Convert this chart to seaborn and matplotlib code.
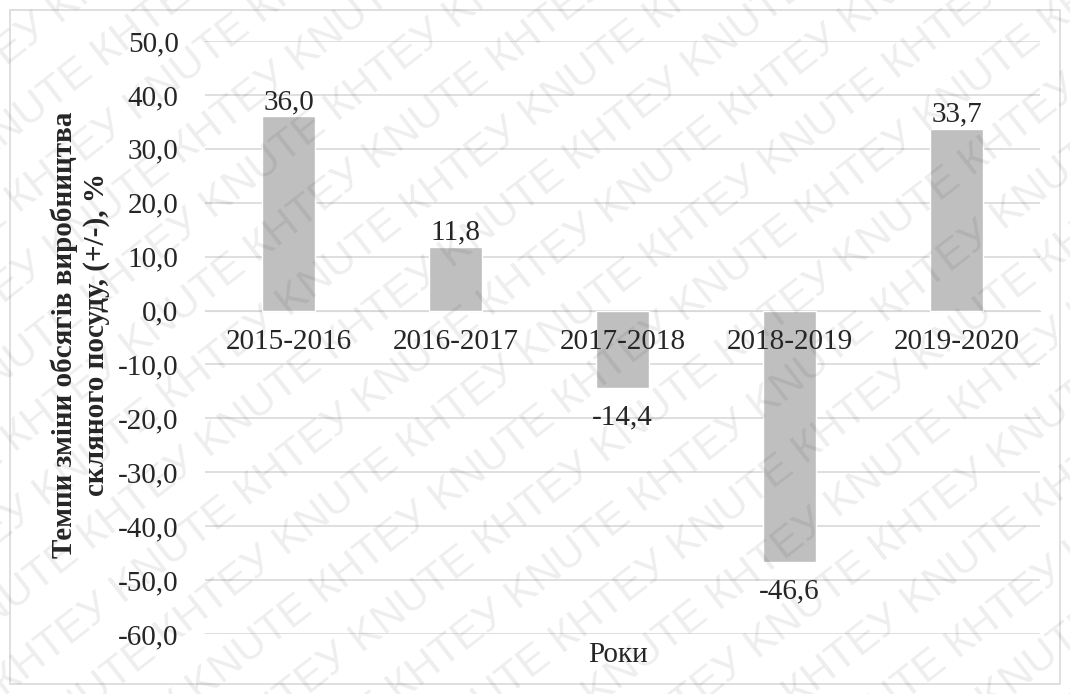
import numpy as np
import matplotlib
matplotlib.use('Agg')
import matplotlib.pyplot as plt
import matplotlib.transforms as mtransforms
from matplotlib.patches import Rectangle
from matplotlib.ticker import FuncFormatter, MultipleLocator
import seaborn as sns

# Data
periods = ['2015-2016', '2016-2017', '2017-2018', '2018-2019', '2019-2020']
growth = [36.0, 11.8, -14.4, -46.6, 33.7]

y_label = 'Темпи зміни обсягів виробництва\nскляного посуду, (+/-), %'
x_label = 'Роки'
watermark = 'КНТЕУ KNUTE '

sns.set_style('white')
plt.rcParams['font.family'] = ['Liberation Serif', 'DejaVu Serif']

fig = plt.figure(figsize=(10.7, 6.94), dpi=100)
ax = fig.add_axes([205 / 1070, 1 - 634 / 694, 835 / 1070, 593 / 694])

sns.barplot(x=periods, y=growth, color='#BFBFBF', saturation=1, width=0.32,
            ax=ax, zorder=2)

ax.set_ylim(-60, 50)
ax.yaxis.set_major_locator(MultipleLocator(10))
ax.yaxis.set_major_formatter(FuncFormatter(lambda v, p: f'{v:.1f}'.replace('.', ',')))
ax.grid(axis='y', color='#D9D9D9', linewidth=1.2, zorder=0)
ax.set_axisbelow(True)
ax.xaxis.set_zorder(3)  # category labels sit on top of the bars
for s in ['top', 'right', 'left']:
    ax.spines[s].set_visible(False)
ax.spines['bottom'].set_position(('data', 0))
ax.spines['bottom'].set_color('#D9D9D9')
ax.spines['bottom'].set_zorder(1)
ax.tick_params(axis='both', length=0, labelsize=21)
ax.tick_params(axis='y', pad=19)
ax.tick_params(axis='x', pad=13)
ax.set_xlabel('')
ax.set_ylabel('')

# value labels outside the bar ends
for i, v in enumerate(growth):
    txt = f'{v:.1f}'.replace('.', ',')
    if v >= 0:
        ax.annotate(txt, (i, v), xytext=(0, 1), textcoords='offset points',
                    ha='center', va='bottom', fontsize=21)
    else:
        ax.annotate(txt, (i, v), xytext=(0, -12), textcoords='offset points',
                    ha='center', va='top', fontsize=21)

fig.text(80 / 1070, 1 - 335 / 694, y_label, rotation=90, ha='center', va='center',
         fontsize=21, fontweight='bold', linespacing=1.2)
fig.text(618 / 1070, 1 - 655 / 694, x_label, ha='center', va='center', fontsize=21)

# outer chart frame
fig.patches.append(Rectangle((10 / 1070, 10 / 694), 1050 / 1070, 674 / 694,
                             transform=fig.transFigure, fill=False,
                             edgecolor='#D9D9D9', linewidth=1.2))

# diagonal watermark
ang = np.deg2rad(38)
d = np.array([np.cos(ang), np.sin(ang)])
n = np.array([-np.sin(ang), np.cos(ang)])
center = np.array([535, 347])
ident = mtransforms.IdentityTransform()
for k in range(-16, 17):
    p = center + k * 62 * n - 1400 * d + (k % 2) * 150 * d
    fig.text(p[0], p[1], watermark * 12, transform=ident, rotation=38,
             rotation_mode='anchor', ha='left', va='center', fontsize=31,
             family='Liberation Sans', color='black', alpha=0.07)

fig.savefig('out.png', dpi=100)
